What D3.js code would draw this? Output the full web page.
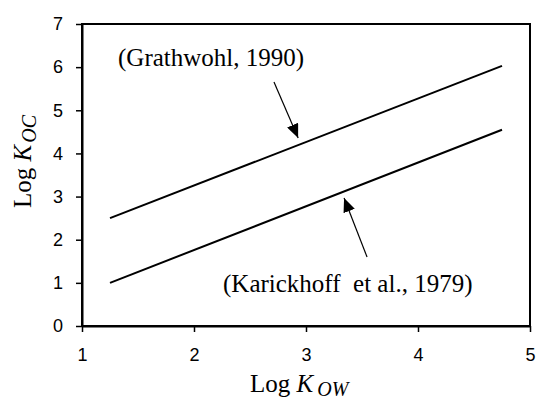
<!DOCTYPE html>
<html>
<head>
<meta charset="utf-8">
<script src="https://cdn.jsdelivr.net/npm/d3@7"></script>
<style>
  body { margin: 0; background: #fff; }
  svg { display: block; }
</style>
</head>
<body>
<div id="chart"></div>
<script>
// data
var logKow = [1.25, 4.75];
var grathwohl = [2.5, 6.03];
var karickhoff = [1.0, 4.55];
var xTicks = [1, 2, 3, 4, 5];
var yTicks = [0, 1, 2, 3, 4, 5, 6, 7];

var width = 536, height = 400;
var plotLeft = 82, plotRight = 530, plotTop = 24, plotBottom = 326;

var svg = d3.select("#chart").append("svg")
    .attr("width", width)
    .attr("height", height);

var x = d3.scaleLinear().domain([1, 5]).range([plotLeft, plotRight]);
var y = d3.scaleLinear().domain([0, 7]).range([plotBottom, plotTop]);

// frame
svg.append("rect")
    .attr("x", plotLeft).attr("y", plotTop)
    .attr("width", plotRight - plotLeft).attr("height", plotBottom - plotTop)
    .attr("fill", "none").attr("stroke", "#000").attr("stroke-width", 2);

var xAxis = svg.append("g")
    .attr("transform", "translate(0," + plotBottom + ")")
    .call(d3.axisBottom(x).tickValues(xTicks).tickFormat(d3.format("d"))
      .tickSize(6).tickSizeOuter(0).tickPadding(16));
var yAxis = svg.append("g")
    .attr("transform", "translate(" + plotLeft + ",0)")
    .call(d3.axisLeft(y).tickValues(yTicks).tickFormat(d3.format("d"))
      .tickSize(6).tickSizeOuter(0).tickPadding(13));

[xAxis, yAxis].forEach(function(a) {
  a.select(".domain").attr("stroke-width", 2);
  a.selectAll(".tick line").attr("stroke-width", 1.5);
  a.selectAll("text")
    .attr("font-family", "Liberation Sans, Arial, sans-serif")
    .attr("font-size", 18)
    .attr("fill", "#000");
});

// regression lines
var line = d3.line()
    .x(function(d, i) { return x(logKow[i]); })
    .y(function(d) { return y(d); });

[grathwohl, karickhoff].forEach(function(s) {
  svg.append("path")
      .datum(s)
      .attr("d", line)
      .attr("fill", "none")
      .attr("stroke", "#000")
      .attr("stroke-width", 2);
});

// arrow marker
svg.append("defs").append("marker")
    .attr("id", "head")
    .attr("viewBox", "0 0 14 12")
    .attr("refX", 14).attr("refY", 6)
    .attr("markerWidth", 14).attr("markerHeight", 12)
    .attr("markerUnits", "userSpaceOnUse")
    .attr("orient", "auto")
  .append("path")
    .attr("d", "M0,0L14,6L0,12Z")
    .attr("fill", "#000");

var arrows = [
  {from: [2.714, 5.656], to: [2.93, 4.358]},
  {from: [3.545, 1.60], to: [3.34, 2.967]}
];
arrows.forEach(function(a) {
  svg.append("line")
      .attr("x1", x(a.from[0])).attr("y1", y(a.from[1]))
      .attr("x2", x(a.to[0])).attr("y2", y(a.to[1]))
      .attr("stroke", "#000").attr("stroke-width", 1.2)
      .attr("marker-end", "url(#head)");
});

var serif = "Liberation Serif, Times New Roman, serif";

svg.append("text")
    .attr("x", 118).attr("y", 66)
    .attr("font-family", serif).attr("font-size", 25)
    .text("(Grathwohl, 1990)");

svg.append("text")
    .attr("x", 223).attr("y", 292)
    .attr("font-family", serif).attr("font-size", 25)
    .attr("xml:space", "preserve")
    .style("white-space", "pre")
    .text("(Karickhoff  et al., 1979)");

// axis titles
var xt = svg.append("text")
    .attr("x", 250).attr("y", 392)
    .attr("font-family", serif).attr("font-size", 25);
xt.append("tspan").text("Log ");
xt.append("tspan").attr("font-style", "italic").text("K");
xt.append("tspan").attr("font-style", "italic").attr("font-size", 20)
    .attr("dx", 4).attr("dy", 4).text("OW");

var yt = svg.append("text")
    .attr("transform", "translate(31,208) rotate(-90)")
    .attr("font-family", serif).attr("font-size", 25);
yt.append("tspan").text("Log ");
yt.append("tspan").attr("font-style", "italic").text("K");
yt.append("tspan").attr("font-style", "italic").attr("font-size", 20)
    .attr("dx", 2).attr("dy", 5).text("OC");
</script>
</body>
</html>
